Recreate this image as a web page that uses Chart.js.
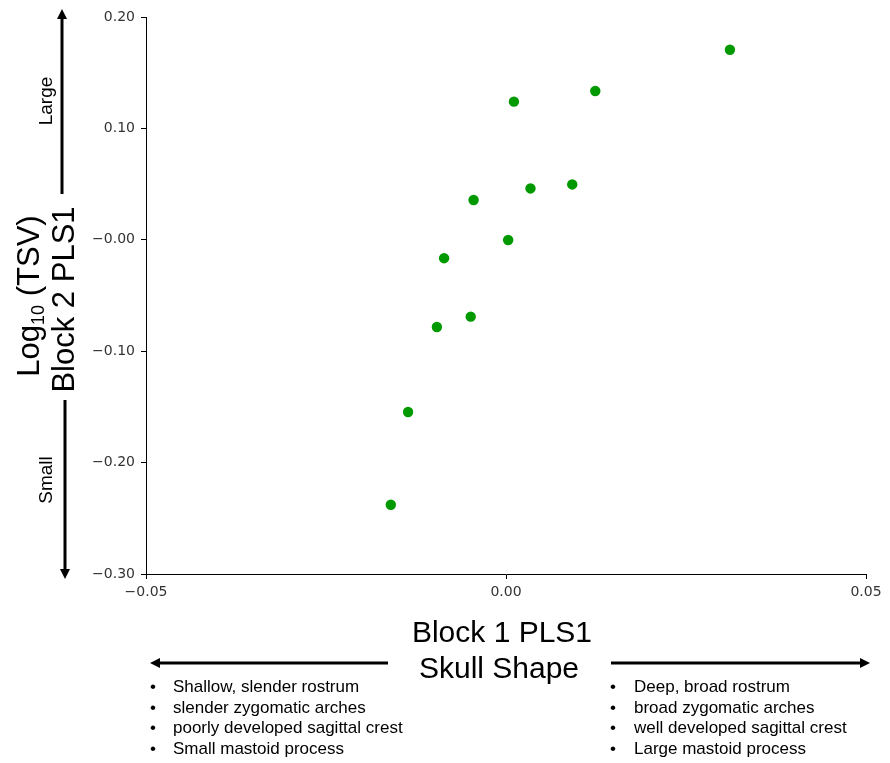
<!DOCTYPE html>
<html>
<head>
<meta charset="utf-8">
<title>Skull shape vs TSV</title>
<script src="https://cdn.jsdelivr.net/npm/chart.js@4.4.0/dist/chart.umd.min.js"></script>
<style>
  html, body { margin: 0; padding: 0; background: #fff; }
  #wrap { width: 890px; height: 763px; }
</style>
</head>
<body>
<div id="wrap"><canvas id="plsChart" width="890" height="763"></canvas></div>
<script>
// PLS scores per specimen
const block1Scores = [0.0311, 0.0124, 0.0011, 0.0092, 0.0034, -0.0045, 0.0003, -0.0086, -0.0049, -0.0096, -0.0136, -0.0160];
const block2Scores = [0.1706, 0.1336, 0.1240, 0.0497, 0.0461, 0.0357, -0.0002, -0.0165, -0.0690, -0.0783, -0.1546, -0.2378];

const xTickLabels = ['\u22120.05', '0.00', '0.05'];
const yTickLabels = ['\u22120.30', '\u22120.20', '\u22120.10', '\u22120.00', '0.10', '0.20'];

const smallTraits = ['Shallow, slender rostrum', 'slender zygomatic arches', 'poorly developed sagittal crest', 'Small mastoid process'];
const largeTraits = ['Deep, broad rostrum', 'broad zygomatic arches', 'well developed sagittal crest', 'Large mastoid process'];

const points = block1Scores.map((x, i) => ({ x, y: block2Scores[i] }));

const SANS = '"Liberation Sans", Arial, sans-serif';

const arrow = (ctx, x1, y1, x2, y2) => {
  // shaft from (x1,y1) to the tip at (x2,y2)
  const ang = Math.atan2(y2 - y1, x2 - x1);
  const headLen = 10, headHalf = 5;
  const bx = x2 - headLen * Math.cos(ang), by = y2 - headLen * Math.sin(ang);
  ctx.beginPath();
  ctx.moveTo(x1, y1);
  ctx.lineTo(bx, by);
  ctx.lineWidth = 3;
  ctx.strokeStyle = '#000';
  ctx.stroke();
  ctx.beginPath();
  ctx.moveTo(x2, y2);
  ctx.lineTo(bx - headHalf * Math.sin(ang), by + headHalf * Math.cos(ang));
  ctx.lineTo(bx + headHalf * Math.sin(ang), by - headHalf * Math.cos(ang));
  ctx.closePath();
  ctx.fillStyle = '#000';
  ctx.fill();
};

const annotations = {
  id: 'annotations',
  afterDraw(chart) {
    const ctx = chart.ctx;
    ctx.save();
    ctx.fillStyle = '#000';

    // vertical axis title, two rotated lines
    ctx.save();
    ctx.translate(39, 296);
    ctx.rotate(-Math.PI / 2);
    ctx.textBaseline = 'alphabetic';
    ctx.font = '31px ' + SANS;
    const wLog = ctx.measureText('Log').width;
    const wTsv = ctx.measureText(' (TSV)').width;
    ctx.font = '18px ' + SANS;
    const wSub = ctx.measureText('10').width;
    let x0 = -(wLog + wSub + wTsv) / 2;
    ctx.textAlign = 'left';
    ctx.font = '31px ' + SANS;
    ctx.fillText('Log', x0, 0);
    ctx.font = '18px ' + SANS;
    ctx.fillText('10', x0 + wLog, 5);
    ctx.font = '31px ' + SANS;
    ctx.fillText(' (TSV)', x0 + wLog + wSub, 0);
    ctx.restore();

    ctx.save();
    ctx.translate(74, 299.5);
    ctx.rotate(-Math.PI / 2);
    ctx.textAlign = 'center';
    ctx.font = '31px ' + SANS;
    ctx.fillText('Block 2 PLS1', 0, 0);
    ctx.restore();

    // size direction labels
    ctx.font = '19px ' + SANS;
    ctx.textAlign = 'center';
    [['Large', 101], ['Small', 480]].forEach(([txt, cy]) => {
      ctx.save();
      ctx.translate(52, cy);
      ctx.rotate(-Math.PI / 2);
      ctx.fillText(txt, 0, 0);
      ctx.restore();
    });

    arrow(ctx, 62, 194, 62, 9);
    arrow(ctx, 65, 400, 65, 579);

    // horizontal axis title
    ctx.font = '30px ' + SANS;
    ctx.textAlign = 'center';
    ctx.fillText('Block 1 PLS1', 502, 642);
    ctx.fillText('Skull Shape', 499, 678);

    arrow(ctx, 388, 663, 150, 663);
    arrow(ctx, 611, 663, 870, 663);

    // trait lists under each arrow
    ctx.font = '17px ' + SANS;
    ctx.textAlign = 'left';
    const lineY = [692, 712.5, 733, 753.5];
    smallTraits.forEach((t, i) => {
      ctx.fillText('\u2022', 150, lineY[i]);
      ctx.fillText(t, 173, lineY[i]);
    });
    largeTraits.forEach((t, i) => {
      ctx.fillText('\u2022', 610, lineY[i]);
      ctx.fillText(t, 634, lineY[i]);
    });
    ctx.restore();
  }
};

const tickFont = { family: '"DejaVu Sans", sans-serif', size: 14 };

new Chart(document.getElementById('plsChart'), {
  type: 'scatter',
  data: {
    datasets: [{
      data: points,
      backgroundColor: '#009900',
      borderWidth: 0,
      pointRadius: 5.2,
      pointHoverRadius: 5.2
    }]
  },
  options: {
    responsive: false,
    animation: false,
    devicePixelRatio: 1,
    layout: { padding: { top: 17, right: 24, bottom: 0, left: 0 } },
    plugins: {
      legend: { display: false },
      tooltip: { enabled: false }
    },
    scales: {
      x: {
        type: 'linear',
        min: -0.05,
        max: 0.05,
        border: { display: true, color: '#000', width: 1 },
        grid: { display: true, drawOnChartArea: false, drawTicks: true, tickLength: 5, color: '#000' },
        ticks: {
          stepSize: 0.05,
          padding: 5,
          color: '#333',
          font: tickFont,
          maxRotation: 0,
          callback: (v, i) => xTickLabels[i]
        },
        afterFit: scale => { scale.height = 189; }
      },
      y: {
        type: 'linear',
        min: -0.3,
        max: 0.2,
        border: { display: true, color: '#000', width: 1 },
        grid: { display: true, drawOnChartArea: false, drawTicks: true, tickLength: 5, color: '#000' },
        ticks: {
          stepSize: 0.1,
          padding: 6,
          color: '#333',
          font: tickFont,
          callback: (v, i) => yTickLabels[i]
        },
        afterFit: scale => { scale.width = 146; }
      }
    }
  },
  plugins: [annotations]
});
</script>
</body>
</html>
